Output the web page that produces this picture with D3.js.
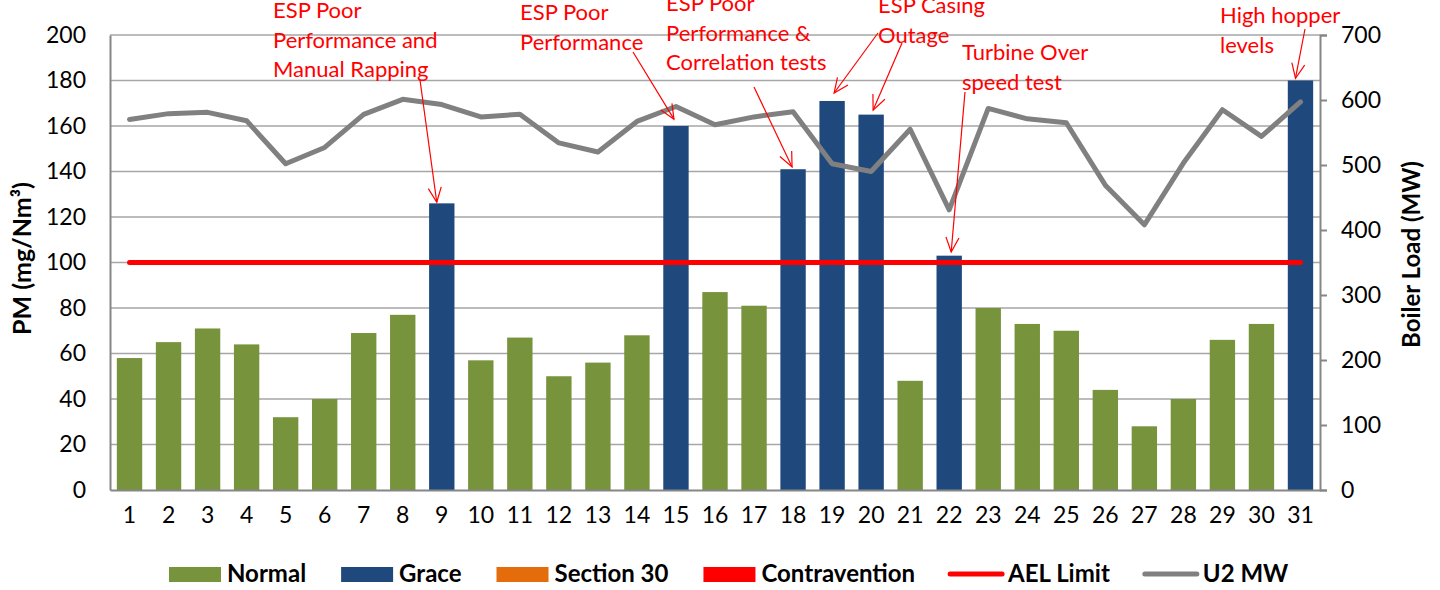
<!DOCTYPE html>
<html>
<head>
<meta charset="utf-8">
<script src="https://cdn.jsdelivr.net/npm/d3@7"></script>
<style>
  body { margin: 0; background: #fff; }
  svg { font-family: Lato, "Open Sans", sans-serif; }
</style>
</head>
<body>
<svg id="chart" width="1440" height="590"></svg>
<script>
// dnevi v mesecu
var days = [1,2,3,4,5,6,7,8,9,10,11,12,13,14,15,16,17,18,19,20,21,22,23,24,25,26,27,28,29,30,31];
// PM (mg/Nm3) po dnevih
var pm = [58,65,71,64,32,40,69,77,126,57,67,50,56,68,160,87,81,141,171,165,48,103,80,73,70,44,28,40,66,73,180];
// status dneva
var dayStatus = ["Normal","Normal","Normal","Normal","Normal","Normal","Normal","Normal","Grace","Normal",
  "Normal","Normal","Normal","Normal","Grace","Normal","Normal","Grace","Grace","Grace",
  "Normal","Grace","Normal","Normal","Normal","Normal","Normal","Normal","Normal","Normal","Grace"];
// U2 MW (desna os)
var mw = [570,579,581,568,502,527,578,601,593,574,578,534,520,567,590,562,574,582,502,490,555,431,587,571,565,469,408,503,585,544,597];
var aelLimit = 100;

var leftTicks = [0,20,40,60,80,100,120,140,160,180,200];
var rightTicks = [0,100,200,300,400,500,600,700];

var legendItems = [
  {name: "Normal", type: "bar", color: "#77933C"},
  {name: "Grace", type: "bar", color: "#1F497D"},
  {name: "Section 30", type: "bar", color: "#E46C0A"},
  {name: "Contravention", type: "bar", color: "#FF0000"},
  {name: "AEL Limit", type: "line", color: "#FF0000"},
  {name: "U2 MW", type: "line", color: "#808080"}
];

// opombe: besedilo, polozaj, puscice (od -> dan/vrednost)
var notes = [
  {lines: ["ESP Poor", "Performance and", "Manual Rapping"], x: 273, y: 18,
   arrows: [{fx: 420, fy: 80, day: 9, val: 126.5, dx: -5}]},
  {lines: ["ESP Poor", "Performance"], x: 520, y: 20,
   arrows: [{fx: 633, fy: 52, day: 15, val: 163, dx: -2}]},
  {lines: ["ESP Poor", "Performance &", "Correlation tests"], x: 666, y: 11,
   arrows: [{fx: 754, fy: 87, day: 18, val: 142, dx: -1}]},
  {lines: ["ESP Casing", "Outage"], x: 878, y: 13,
   arrows: [{fx: 878, fy: 33, day: 19, val: 174.5, dx: 2}, {fx: 902, fy: 43, day: 20, val: 167, dx: 2}]},
  {lines: ["Turbine Over", "speed test"], x: 962, y: 60,
   arrows: [{fx: 965, fy: 92, day: 22, val: 104.6, dx: 2}]},
  {lines: ["High hopper", "levels"], x: 1220, y: 23,
   arrows: [{fx: 1305, fy: 29, day: 31, val: 181, dx: -5}]}
];

var colorOf = {Normal: "#77933C", Grace: "#1F497D"};

var svg = d3.select("#chart");
var plotL = 110, plotR = 1320, plotT = 35, plotB = 490;

var x = d3.scaleBand().domain(days).range([plotL, plotR]).paddingInner(0.35).paddingOuter(0.175);
var yL = d3.scaleLinear().domain([0, 200]).range([plotB, plotT]);
var yR = d3.scaleLinear().domain([0, 700]).range([plotB, plotT]);

// mreza
svg.append("g")
  .selectAll("line")
  .data(leftTicks.slice(1))
  .enter().append("line")
  .attr("x1", plotL).attr("x2", plotR)
  .attr("y1", d => yL(d)).attr("y2", d => yL(d))
  .attr("stroke", "#A6A6A6").attr("stroke-width", 1.5);

// stolpci
svg.append("g")
  .selectAll("rect")
  .data(days)
  .enter().append("rect")
  .attr("x", d => x(d))
  .attr("width", x.bandwidth())
  .attr("y", (d, i) => yL(pm[i]))
  .attr("height", (d, i) => plotB - yL(pm[i]))
  .attr("fill", (d, i) => colorOf[dayStatus[i]]);

// osi
var axL = svg.append("g").attr("transform", `translate(${plotL},0)`)
  .call(d3.axisLeft(yL).tickValues(leftTicks).tickSize(0).tickPadding(24));
var axR = svg.append("g").attr("transform", `translate(${plotR},0)`)
  .call(d3.axisRight(yR).tickValues(rightTicks).tickSize(7).tickPadding(14));
var axB = svg.append("g").attr("transform", `translate(0,${plotB})`)
  .call(d3.axisBottom(x).tickSize(0).tickPadding(17));

[axL, axR, axB].forEach(a => {
  a.select(".domain").attr("stroke", "#868686").attr("stroke-width", 2);
  a.selectAll(".tick line").attr("stroke", "#868686").attr("stroke-width", 2);
  a.selectAll("text").attr("font-size", 23).attr("fill", "#000").attr("font-family", "Lato");
});
axR.selectAll(".tick text").attr("text-anchor", "start");

// AEL limit
svg.append("line")
  .attr("x1", x(days[0]) + x.bandwidth() / 2)
  .attr("x2", x(days[days.length - 1]) + x.bandwidth() / 2)
  .attr("y1", yL(aelLimit)).attr("y2", yL(aelLimit))
  .attr("stroke", "#FF0000").attr("stroke-width", 5).attr("stroke-linecap", "round");

// U2 MW crta
var line = d3.line()
  .x((d, i) => x(days[i]) + x.bandwidth() / 2)
  .y(d => yR(d));
svg.append("path")
  .datum(mw)
  .attr("d", line)
  .attr("fill", "none")
  .attr("stroke", "#808080")
  .attr("stroke-width", 5)
  .attr("stroke-linejoin", "round")
  .attr("stroke-linecap", "round");

// naslovi osi
svg.append("text")
  .attr("transform", `translate(31,${(plotT + plotB) / 2 - 4}) rotate(-90)`)
  .attr("text-anchor", "middle")
  .attr("font-size", 25).attr("font-weight", "bold")
  .text("PM (mg/Nm³)");
svg.append("text")
  .attr("transform", `translate(1420,${(plotT + plotB) / 2 - 8}) rotate(-90)`)
  .attr("text-anchor", "middle")
  .attr("font-size", 24).attr("font-weight", "bold")
  .text("Boiler Load (MW)");

// opombe
var noteG = svg.append("g");
notes.forEach(n => {
  n.lines.forEach((t, k) => {
    noteG.append("text")
      .attr("x", n.x).attr("y", n.y + k * 29.5)
      .attr("fill", "#FF0000")
      .attr("font-size", 22)
      .text(t);
  });
  n.arrows.forEach(a => {
    var tx = x(a.day) + x.bandwidth() / 2 + a.dx;
    var ty = yL(a.val);
    noteG.append("line")
      .attr("x1", a.fx).attr("y1", a.fy).attr("x2", tx).attr("y2", ty)
      .attr("stroke", "#FF0000").attr("stroke-width", 1.2);
    var ang = Math.atan2(ty - a.fy, tx - a.fx);
    var len = 16, spread = 0.42;
    var p1 = [tx - len * Math.cos(ang - spread), ty - len * Math.sin(ang - spread)];
    var p2 = [tx - len * Math.cos(ang + spread), ty - len * Math.sin(ang + spread)];
    noteG.append("path")
      .attr("d", `M${p1[0]},${p1[1]}L${tx},${ty}L${p2[0]},${p2[1]}`)
      .attr("fill", "none")
      .attr("stroke", "#FF0000").attr("stroke-width", 1.2);
  });
});

// legenda
var lg = svg.append("g");
var lx = 169, ly = 574;
legendItems.forEach(it => {
  if (it.type == "bar") {
    lg.append("rect").attr("x", lx).attr("y", ly - 7).attr("width", 52).attr("height", 15).attr("fill", it.color);
  } else {
    lg.append("line").attr("x1", lx).attr("x2", lx + 52).attr("y1", ly).attr("y2", ly)
      .attr("stroke", it.color).attr("stroke-width", 5).attr("stroke-linecap", "round");
  }
  var t = lg.append("text")
    .attr("x", lx + 58).attr("y", ly + 8)
    .attr("font-size", 24).attr("font-weight", "bold")
    .text(it.name);
  lx = lx + 58 + t.node().getComputedTextLength() + 35;
});
</script>
</body>
</html>
